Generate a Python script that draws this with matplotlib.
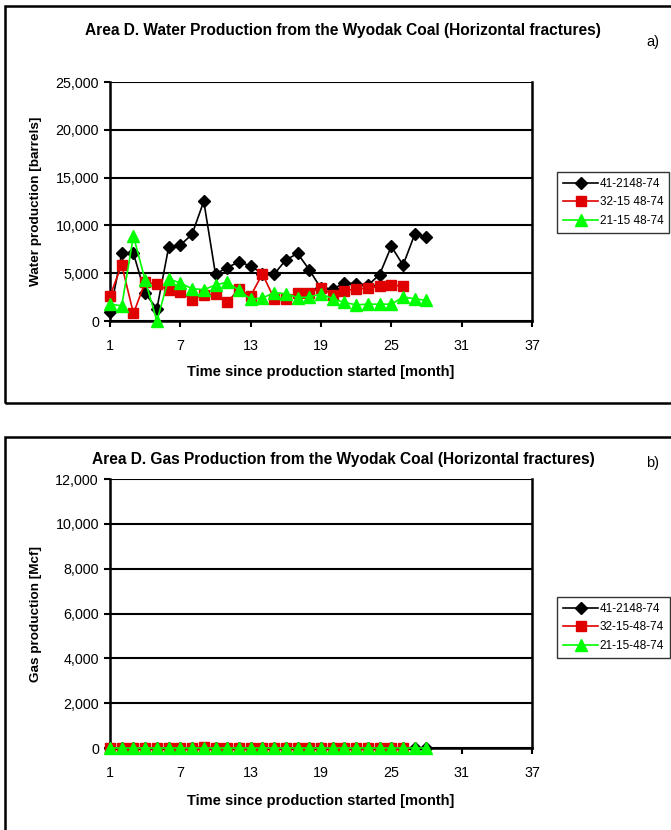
import matplotlib
matplotlib.use("Agg")
import matplotlib.pyplot as plt
from matplotlib.patches import Rectangle
from matplotlib.ticker import FuncFormatter

plt.rcParams['font.family'] = ['Liberation Sans', 'DejaVu Sans']

# Monthly water production [barrels]
months_41 = list(range(1, 29))
water_41 = [900, 7070, 7070, 2900, 1280, 7690, 7940, 9070, 12520, 4900,
            5590, 6180, 5760, 4950, 4900, 6380, 7070, 5360, 3400, 3340,
            3980, 3900, 3730, 4860, 7810, 5840, 9080, 8800]
months_32 = list(range(1, 27))
water_32 = [2620, 5870, 790, 4070, 3830, 3210, 3070, 2240, 2760, 2800,
            2000, 3300, 2620, 4930, 2350, 2350, 2960, 2960, 3450, 2750,
            3170, 3340, 3450, 3630, 3770, 3630]
months_21 = list(range(1, 29))
water_21 = [1760, 1590, 8900, 4240, 0, 4420, 3970, 3380, 3280, 3760,
            4070, 3210, 2280, 2400, 2970, 2860, 2450, 2500, 2850, 2320,
            1940, 1690, 1760, 1760, 1760, 2500, 2320, 2150]

# Monthly gas production [Mcf]
gas_41 = [0] * 28
gas_32 = [0, 0, 0, 0, 0, 0, 0, 0, 60, 0, 0, 0, 0, 0, 0, 0, 0, 0, 0, 0,
          0, 0, 0, 0, 0, 0]
gas_21 = [0] * 28

labels_a = ["41-2148-74", "32-15 48-74", "21-15 48-74"]
labels_b = ["41-2148-74", "32-15-48-74", "21-15-48-74"]

x_ticks = [1, 7, 13, 19, 25, 31, 37]

W, H = 671, 830
fig = plt.figure(figsize=(W / 100, H / 100), dpi=100)
fig.patch.set_facecolor('white')


def fx(px):
    return px / W


def fy(py):
    return 1 - py / H


# outer frames around each panel
for (x0, y0, x1, y1) in [(5, 6, 700, 403), (5, 437, 700, 860)]:
    fig.patches.append(Rectangle((fx(x0), fy(y1)), fx(x1) - fx(x0), fy(y0) - fy(y1),
                                 transform=fig.transFigure, fill=False,
                                 edgecolor='black', linewidth=1.8, clip_on=False))

thousands = FuncFormatter(lambda v, p: f"{int(v):,}")


def style_axes(ax, ymax, ystep):
    ax.set_xlim(1, 37)
    ax.set_ylim(0, ymax)
    ax.set_xticks(x_ticks)
    ax.set_yticks(range(0, ymax + 1, ystep))
    ax.yaxis.set_major_formatter(thousands)
    ax.tick_params(direction='out', length=4, width=1.5, labelsize=10.3, pad=4)
    ax.tick_params(axis='x', pad=9)
    for s in ax.spines.values():
        s.set_linewidth(1.8)
    ax.spines['top'].set_visible(False)
    ax.grid(axis='y', color='black', linewidth=1.5)
    ax.set_axisbelow(True)


def draw_series(ax, m41, v41, m32, v32, m21, v21, labels):
    h1, = ax.plot(m41, v41, color='black', marker='D', markersize=6.3, linewidth=1.2,
                  label=labels[0], clip_on=False, zorder=3)
    h2, = ax.plot(m32, v32, color='#e00000', marker='s', markersize=6.8, linewidth=1.2,
                  label=labels[1], clip_on=False, zorder=4)
    h3, = ax.plot(m21, v21, color='#00ff00', marker='^', markersize=8, linewidth=1.2,
                  label=labels[2], clip_on=False, zorder=5)
    return [h1, h2, h3]


def add_legend(handles, top_px):
    leg = fig.legend(handles=handles, loc='upper left',
                     bbox_to_anchor=(fx(557), fy(top_px)),
                     fontsize=8.5, frameon=True, fancybox=False, edgecolor='black',
                     handlelength=3.0, handletextpad=0.1, borderpad=0.5,
                     labelspacing=0.55, borderaxespad=0)
    leg.get_frame().set_linewidth(1.0)
    return leg


# Panel a: water
ax1 = fig.add_axes([fx(110), fy(321), fx(532) - fx(110), fy(82) - fy(321)])
style_axes(ax1, 25000, 5000)
hs = draw_series(ax1, months_41, water_41, months_32, water_32, months_21, water_21, labels_a)
ax1.set_xlabel("Time since production started [month]", fontsize=10.5, fontweight='bold')
ax1.xaxis.set_label_coords(0.5, -44 / 239)
ax1.set_ylabel("Water production [barrels]", fontsize=9.7, fontweight='bold')
ax1.yaxis.set_label_coords(-68 / 422, 0.5)
fig.text(fx(343), fy(31), "Area D. Water Production from the Wyodak Coal (Horizontal fractures)",
         ha='center', va='center', fontsize=11.2, fontweight='bold')
fig.text(fx(653), fy(42), "a)", ha='center', va='center', fontsize=10.5)
add_legend(hs, 172)

# Panel b: gas
ax2 = fig.add_axes([fx(110), fy(748), fx(532) - fx(110), fy(479) - fy(748)])
style_axes(ax2, 12000, 2000)
hs2 = draw_series(ax2, months_41, gas_41, months_32, gas_32, months_21, gas_21, labels_b)
ax2.set_xlabel("Time since production started [month]", fontsize=10.5, fontweight='bold')
ax2.xaxis.set_label_coords(0.5, -46 / 269)
ax2.set_ylabel("Gas production [Mcf]", fontsize=9.7, fontweight='bold')
ax2.yaxis.set_label_coords(-68 / 422, 0.5)
fig.text(fx(343), fy(459), "Area D. Gas Production from the Wyodak Coal (Horizontal fractures)",
         ha='center', va='center', fontsize=11.2, fontweight='bold')
fig.text(fx(653), fy(463), "b)", ha='center', va='center', fontsize=10.5)
add_legend(hs2, 597)

fig.savefig("out.png", dpi=100)
